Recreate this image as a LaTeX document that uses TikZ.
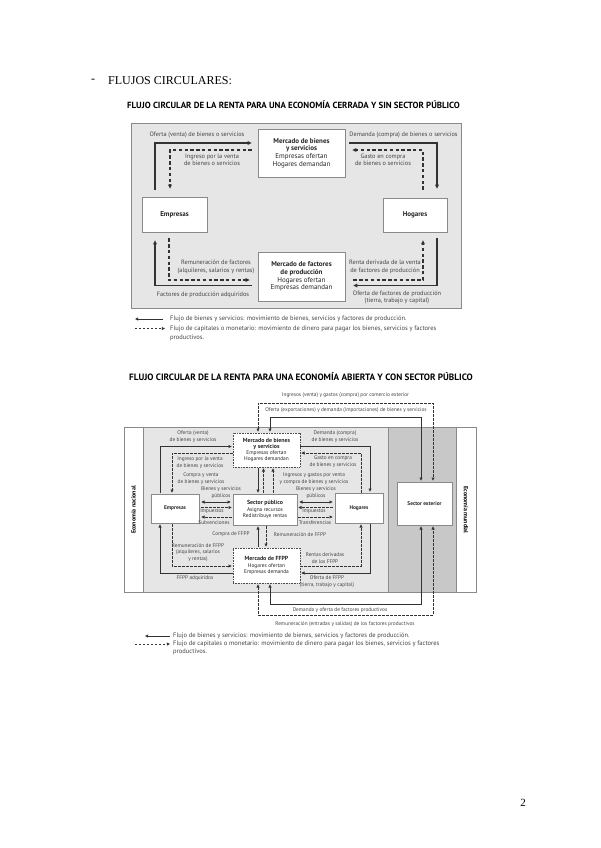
\documentclass[tikz,border=0pt]{standalone}
\usepackage{fontspec}
\setmainfont{Liberation Serif}
\newfontfamily\dgf{PT Sans}
\usetikzlibrary{arrows.meta}
\definecolor{bgA}{HTML}{E6E6E6}
\definecolor{bgB}{HTML}{C8C8C8}
\definecolor{frm}{HTML}{8A8A8A}
\definecolor{lnc}{HTML}{333333}
\definecolor{txc}{HTML}{444444}
\newcommand{\fsz}[2]{\fontsize{#1}{#2}\selectfont}
\tikzset{
  lblA/.style={font=\dgf\fsz{6.3}{7.4}, text=txc, inner sep=0pt, align=center},
  lblB/.style={font=\dgf\fsz{5.3}{6.8}, text=txc, inner sep=0pt, align=center},
  boxA/.style={draw=frm, fill=white, line width=0.6pt, align=center, inner sep=0pt, font=\dgf\fsz{7}{7.8}, text=black!85},
  boxB/.style={boxA, font=\dgf\fsz{5.4}{6.3}},
  dotbox/.style={boxB, dash pattern=on 0.8pt off 0.8pt, draw=black!70},
  tip/.style={-{Triangle[length=4pt,width=3.6pt]}},
  sol/.style={draw=lnc, line width=1.2pt, tip},
  dsh/.style={sol, dash pattern=on 3.4pt off 2.4pt},
  sol2/.style={draw=lnc, line width=0.8pt, -{Triangle[length=3.2pt,width=3pt]}},
  dsh2/.style={sol2, dash pattern=on 2.4pt off 1.6pt},
  both/.style={{Triangle[length=3.2pt,width=3pt]}-{Triangle[length=3.2pt,width=3pt]}},
  legt/.style={font=\dgf\fsz{6.5}{7.4}, text=txc, inner sep=0pt, anchor=west},
}
\begin{document}
\begin{tikzpicture}[x=1pt,y=-1pt]
\useasboundingbox (0,0) rectangle (600,848);
\fill[white] (0,0) rectangle (600,848);

% ---------- heading ----------
\node[font=\fsz{12}{14}, anchor=west, inner sep=0pt] (dash) at (91,81) {-};
\node[font=\fsz{12}{14}, anchor=west, inner sep=0pt] (head) at (108,81) {FLUJOS CIRCULARES:};
\node[font=\fsz{11}{13}, inner sep=0pt] (pnum) at (523,803) {2};

% ---------- diagram 1 ----------
\node[font=\dgf\bfseries\fsz{8.9}{9.5}, inner sep=0pt] (t1) at (293.5,105) {FLUJO CIRCULAR DE LA RENTA PARA UNA ECONOMÍA CERRADA Y SIN SECTOR PÚBLICO};
\filldraw[fill=bgA, draw=frm, line width=0.6pt] (131,123) rectangle (461,308);

\node[boxA, minimum width=87pt, minimum height=48pt] (mbs) at (301.5,153) {\textbf{Mercado de bienes}\\\textbf{y servicios}\\Empresas ofertan\\Hogares demandan};
\node[boxA, minimum width=65pt, minimum height=35pt] (emp) at (174.5,214.5) {\textbf{Empresas}};
\node[boxA, minimum width=64pt, minimum height=34pt] (hog) at (415,215) {\textbf{Hogares}};
\node[boxA, minimum width=87pt, minimum height=49pt] (mfp) at (301.5,276.5) {\textbf{Mercado de factores}\\\textbf{de producción}\\Hogares ofertan\\Empresas demandan};

\draw[sol, shorten <=7pt, shorten >=6pt] (emp.north -| 155,0) |- (mbs.west |- 0,143);
\draw[dsh, shorten <=6pt, shorten >=8pt] (mbs.west |- 0,150) -| (emp.north -| 170,0);
\draw[sol, shorten <=4pt, shorten >=9pt] (mbs.east |- 0,143) -| (hog.north -| 437,0);
\draw[dsh, shorten <=8pt, shorten >=7pt] (hog.north -| 423,0) |- (mbs.east |- 0,150);
\draw[sol, shorten <=6pt, shorten >=8pt] (mfp.west |- 0,285.5) -| (emp.south -| 155,0);
\draw[dsh, shorten <=6pt, shorten >=8pt] (emp.south -| 169,0) |- (mfp.west |- 0,280);
\draw[sol, shorten <=6pt, shorten >=8pt] (hog.south -| 437,0) |- (mfp.east |- 0,285.5);
\draw[dsh, shorten <=8pt, shorten >=8pt] (mfp.east |- 0,280) -| (hog.south -| 423,0);

\node[lblA] (l1) at (197,134.5) {Oferta (venta) de bienes o servicios};
\node[lblA] (l2) at (212,160) {Ingreso por la venta\\de bienes o servicios};
\node[lblA] (l3) at (403.5,134.5) {Demanda (compra) de bienes o servicios};
\node[lblA] (l4) at (383,160) {Gasto en compra\\de bienes o servicios};
\node[lblA] (l5) at (216,267) {Remuneración de factores\\(alquileres, salarios y rentas)};
\node[lblA] (l6) at (203,294.5) {Factores de producción adquiridos};
\node[lblA] (l7) at (385,267) {Renta derivada de la venta\\de factores de producción};
\node[lblA] (l8) at (397,297.5) {Oferta de factores de producción\\(tierra, trabajo y capital)};

% legend 1
\node[legt] (lg1) at (170,319) {Flujo de bienes y servicios: movimiento de bienes, servicios y factores de producción.};
\node[legt] (lg2) at (170,328.5) {Flujo de capitales o monetario: movimiento de dinero para pagar los bienes, servicios y factores};
\node[legt] (lg3) at (170,337.5) {productivos.};
\coordinate (lg1a) at (135,319);
\coordinate (lg2a) at (135,328.5);
\draw[sol2, line width=0.7pt, shorten <=7pt] (lg1.west) -- (lg1a);
\draw[dsh2, line width=0.7pt, shorten >=5pt] (lg2a) -- (lg2.west);

% ---------- diagram 2 ----------
\node[font=\dgf\bfseries\fsz{9.2}{9.8}, inner sep=0pt] (t2) at (301,377) {FLUJO CIRCULAR DE LA RENTA PARA UNA ECONOMÍA ABIERTA Y CON SECTOR PÚBLICO};

\fill[white] (124,427) rectangle (476,592);
\fill[bgA] (143,427) rectangle (388,592);
\fill[bgB] (388,427) rectangle (456,592);
\draw[frm, line width=0.5pt] (143,427) -- (143,592) (388,427) -- (388,592) (456,427) -- (456,592);
\draw[frm, line width=0.6pt] (124,427) rectangle (476,592);

\node[font=\dgf\bfseries\fsz{6}{6.5}, rotate=90, inner sep=0pt] (enac) at (133.5,510) {Economía nacional};
\node[font=\dgf\bfseries\fsz{6}{6.5}, rotate=-90, inner sep=0pt] (emun) at (466,510) {Economía mundial};

\node[dotbox, minimum width=67pt, minimum height=34pt] (mbs2) at (266.5,450) {\textbf{\fsz{5.9}{6.6}Mercado de bienes}\\\textbf{\fsz{5.9}{6.6}y servicios}\\Empresas ofertan\\Hogares demandan};
\node[boxB, minimum width=48pt, minimum height=29pt] (emp2) at (175,508.5) {\textbf{Empresas}};
\node[boxB, minimum width=64pt, minimum height=31pt] (sp) at (265,509.5) {\textbf{\fsz{5.9}{6.6}Sector público}\\Asigna recursos\\Redistribuye rentas};
\node[boxB, minimum width=48pt, minimum height=30pt] (hog2) at (359,508) {\textbf{Hogares}};
\node[boxB, minimum width=55pt, minimum height=43pt] (sext) at (424.5,503.5) {\textbf{Sector exterior}};
\node[dotbox, minimum width=67pt, minimum height=35pt] (mff) at (266.5,565.5) {\textbf{\fsz{5.9}{6.6}Mercado de FFPP}\\Hogares ofertan\\Empresas demanda};

% external flows
\draw[dsh2, both, shorten <=1pt, shorten >=1pt] (mbs2.north -| 258,0) -- (258,403) -| (sext.north -| 433,0);
\draw[sol2, both, shorten <=1pt, shorten >=1pt] (mbs2.north -| 270,0) -- (270,417) -| (sext.north -| 421,0);
\draw[sol2, both, shorten <=1pt, shorten >=1pt] (mff.south -| 270,0) -- (270,604) -| (sext.south -| 421,0);
\draw[dsh2, both, shorten <=1pt, shorten >=1pt] (mff.south -| 258,0) -- (258,615) -| (sext.south -| 433,0);

\node[lblB] (e1) at (345.5,395.5) {Ingresos (venta) y gastos (compra) por comercio exterior};
\node[lblB] (e2) at (346,410) {Oferta (exportaciones) y demanda (importaciones) de bienes y servicios};
\node[lblB] (e3) at (340,610.5) {Demanda y oferta de factores productivos};
\node[lblB] (e4) at (345,624.5) {Remuneración (entradas y salidas) de los factores productivos};

% goods market flows
\draw[sol2, shorten <=1pt, shorten >=1pt] (emp2.north -| 160,0) |- (mbs2.west |- 0,446.5);
\draw[dsh2, shorten >=1pt] (mbs2.west |- 0,453) -| (emp2.north -| 172,0);
\draw[sol2, shorten >=1pt] (mbs2.east |- 0,446.5) -| (hog2.north -| 370,0);
\draw[dsh2, shorten >=1pt] (hog2.north -| 361,0) |- (mbs2.east |- 0,453);

% mercado <-> sector publico
\draw[sol2, shorten <=1pt, shorten >=1pt] (mbs2.south -| 258,0) -- (sp.north -| 258,0);
\draw[dsh2, shorten <=1pt, shorten >=1pt] (sp.north -| 263.5,0) -- (mbs2.south -| 263.5,0);
\draw[dsh2, shorten <=1pt, shorten >=1pt] (sp.north -| 273,0) -- (mbs2.south -| 273,0);

% empresas <-> sector publico
\draw[sol2, both, shorten <=2pt, shorten >=2pt] (sp.west |- 0,502) -- (emp2.east |- 0,502);
\draw[dsh2, shorten <=2pt, shorten >=1pt] (emp2.east |- 0,507.5) -- (sp.west |- 0,507.5);
\draw[dsh2, shorten <=1pt, shorten >=2pt] (sp.west |- 0,517) -- (emp2.east |- 0,517);
\node[lblB] (i1) at (212,511.5) {Impuestos};
\node[lblB] (s1) at (214,522.5) {Subvenciones};

% sector publico <-> hogares
\draw[sol2, both, shorten <=2pt, shorten >=2pt] (sp.east |- 0,502) -- (hog2.west |- 0,502);
\draw[dsh2, shorten <=2pt, shorten >=1pt] (hog2.west |- 0,507.5) -- (sp.east |- 0,507.5);
\draw[dsh2, shorten <=1pt, shorten >=2pt] (sp.east |- 0,517) -- (hog2.west |- 0,517);
\node[lblB] (i2) at (314,511.5) {Impuestos};
\node[lblB] (t3) at (315,522.5) {Transferencias};

% sector publico <-> mercado FFPP
\draw[sol2, shorten <=1pt, shorten >=1pt] (mff.north -| 258,0) -- (sp.south -| 258,0);
\draw[dsh2, shorten <=1pt, shorten >=1pt] (sp.south -| 266,0) -- (mff.north -| 266,0);
\node[lblB] (c1) at (231,534.5) {Compra de FFPP};
\node[lblB] (r1) at (300,534.5) {Remuneración de FFPP};

% factor market flows
\draw[dsh2, shorten <=1pt, shorten >=1pt] (emp2.south -| 172,0) |- (mff.west |- 0,566);
\draw[sol2, shorten >=1pt] (mff.west |- 0,573) -| (emp2.south -| 160,0);
\draw[dsh2, shorten >=1pt] (mff.east |- 0,566) -| (hog2.south -| 361,0);
\draw[sol2, shorten <=1pt, shorten >=1pt] (hog2.south -| 370,0) |- (mff.east |- 0,573);

% labels diagram 2
\node[lblB] (b1) at (193,437) {Oferta (venta)\\de bienes y servicios};
\node[lblB] (b2) at (200,462.5) {Ingreso por la venta\\de bienes y servicios};
\node[lblB] (b3) at (201,478.5) {Compra y venta\\de bienes y servicios};
\node[lblB] (b4) at (221,492.5) {Bienes y servicios\\públicos};
\node[lblB] (b5) at (335,437) {Demanda (compra)\\de bienes y servicios};
\node[lblB] (b6) at (333,461.5) {Gasto en compra\\de bienes y servicios};
\node[lblB] (b7) at (314,478.5) {Ingresos y gastos por venta\\y compra de bienes y servicios};
\node[lblB] (b8) at (316,492.5) {Bienes y servicios\\públicos};
\node[lblB] (b9) at (198,552.5) {Remuneración de FFPP\\(alquileres, salarios\\y rentas)};
\node[lblB] (b10) at (195,578.5) {FFPP adquiridos};
\node[lblB] (b11) at (325,558.5) {Rentas derivadas\\de los FFPP};
\node[lblB] (b12) at (327,581.5) {Oferta de FFPP\\(tierra, trabajo y capital)};

% legend 2
\node[legt] (lg4) at (173,636) {Flujo de bienes y servicios: movimiento de bienes, servicios y factores de producción.};
\node[legt] (lg5) at (173,644) {Flujo de capitales o monetario: movimiento de dinero para pagar los bienes, servicios y factores};
\node[legt] (lg6) at (173,652) {productivos.};
\coordinate (lg4a) at (145,636);
\coordinate (lg5a) at (135,644);
\draw[sol2, line width=0.7pt, shorten <=3pt] (lg4.west) -- (lg4a);
\draw[dsh2, line width=0.7pt, shorten >=3pt] (lg5a) -- (lg5.west);
\end{tikzpicture}
\end{document}
